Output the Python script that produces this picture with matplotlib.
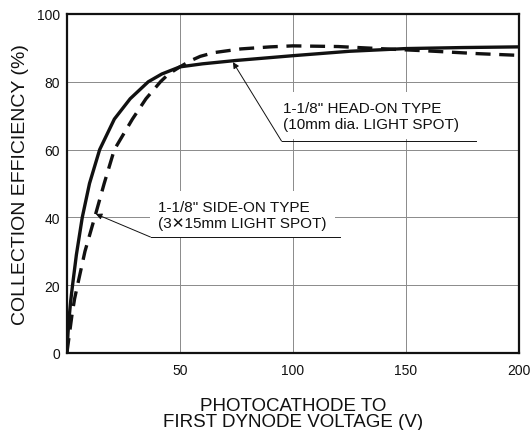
import matplotlib
matplotlib.use("Agg")
import matplotlib.pyplot as plt

plt.rcParams["font.family"] = ["Liberation Sans", "DejaVu Sans"]

INK = "#111111"
GRID = "#8a8a8a"

# head-on tube (solid curve)
head_v = [0, 0.5, 1, 1.7, 2.5, 4.2, 6.8, 10, 14.5, 21, 28, 36, 42, 50, 60, 75,
          100, 125, 150, 175, 200]
head_eff = [0, 6, 10.5, 15.5, 20, 29, 40, 50, 60, 69, 75, 80, 82.3, 84.4, 85.3, 86.3,
            87.7, 89.0, 89.8, 90.1, 90.3]

# side-on tube (dashed curve)
side_v = [0, 1, 2.2, 3.4, 4.7, 8, 12.3, 16.5, 21, 29, 35, 41.4, 45, 50, 55, 59, 65,
          77, 90, 100, 120, 138, 160, 182, 200]
side_eff = [0, 5, 11, 16, 20, 30, 40, 50, 60, 69, 75, 80, 82.3, 84.4, 86.3, 87.5, 88.6,
            89.7, 90.3, 90.6, 90.4, 89.8, 89.1, 88.3, 87.8]

x_ticks = [50, 100, 150, 200]
y_ticks = [0, 20, 40, 60, 80, 100]

fig = plt.figure(figsize=(5.31, 4.31), dpi=100)
ax = fig.add_axes([0.126, 0.1787, 0.851, 0.7865])

ax.plot(head_v, head_eff, color=INK, lw=2.4, solid_joinstyle="round", zorder=4)
ax.plot(side_v, side_eff, color=INK, lw=2.4, dashes=(4.5, 2.6), zorder=4)

ax.set_xlim(0, 200)
ax.set_ylim(0, 100)
ax.set_xticks(x_ticks)
ax.set_yticks(y_ticks)
ax.tick_params(length=0, labelsize=10, colors=INK, pad=5)
ax.tick_params(axis="x", pad=7)
ax.grid(color=GRID, lw=0.7, zorder=0)
for s in ax.spines.values():
    s.set_linewidth(1.6)
    s.set_color(INK)

box = dict(facecolor="white", edgecolor="none", pad=6)
ax.text(95.5, 70, "1-1/8\" HEAD-ON TYPE\n(10mm dia. LIGHT SPOT)", fontsize=11,
        ha="left", va="center", color=INK, linespacing=1.15, bbox=box, zorder=2)
ax.text(40.5, 40.8, "1-1/8\" SIDE-ON TYPE\n(3\u271515mm LIGHT SPOT)", fontsize=11,
        ha="left", va="center", color=INK, linespacing=1.15, bbox=box, zorder=2)

# leader lines to each curve
ax.plot([95, 181], [62.5, 62.5], color=INK, lw=0.7, zorder=3)
ax.annotate("", xy=(73.5, 85.8), xytext=(95, 62.5),
            arrowprops=dict(arrowstyle="-|>", color=INK, lw=0.7,
                            mutation_scale=9, shrinkA=0, shrinkB=0), zorder=3)
ax.plot([37, 121], [34.2, 34.2], color=INK, lw=0.7, zorder=3)
ax.annotate("", xy=(12.8, 41), xytext=(37, 34.2),
            arrowprops=dict(arrowstyle="-|>", color=INK, lw=0.7,
                            mutation_scale=9, shrinkA=0, shrinkB=0), zorder=3)

ax.set_ylabel("COLLECTION EFFICIENCY (%)", fontsize=14, color=INK, va="center")
ax.yaxis.set_label_coords(-0.102, 0.5)
fig.text(0.552, 0.058, "PHOTOCATHODE TO", fontsize=13.5, ha="center", va="center", color=INK)
fig.text(0.552, 0.019, "FIRST DYNODE VOLTAGE (V)", fontsize=13.5, ha="center", va="center", color=INK)

fig.savefig("out.png", dpi=100)
